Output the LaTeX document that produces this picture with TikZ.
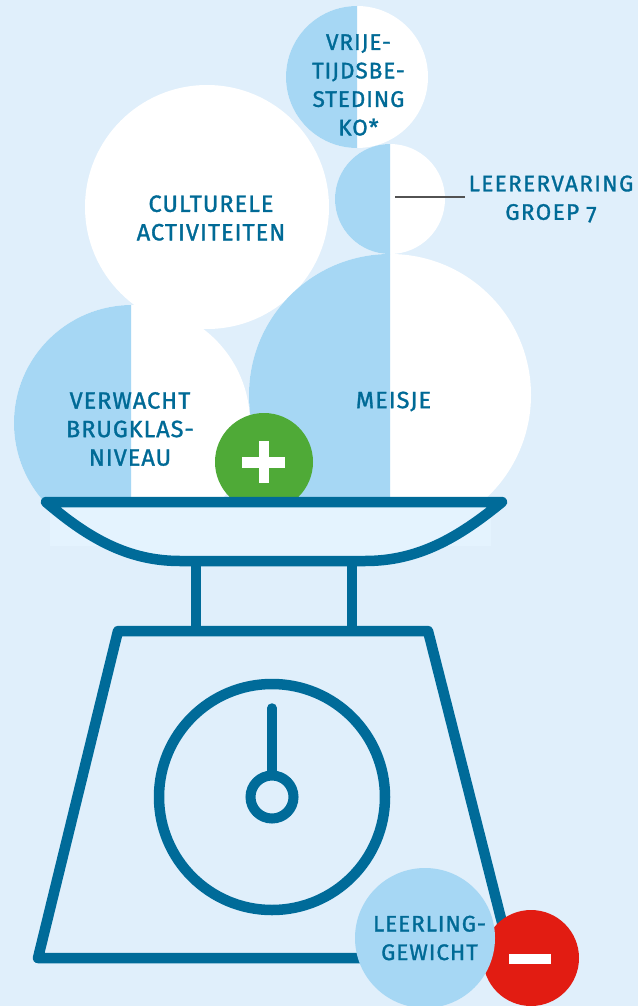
\documentclass[tikz,border=0pt]{standalone}
\usepackage{fontspec}
\setmainfont[LetterSpace=4.2,Numbers=OldStyle,FakeBold=1.3]{Fira Sans}
\newfontfamily\widefont[LetterSpace=6.2,Numbers=OldStyle,FakeBold=1.3]{Fira Sans}
\definecolor{bgc}{HTML}{E0EFFB}
\definecolor{halfc}{HTML}{A6D7F4}
\definecolor{inkc}{HTML}{006B99}
\definecolor{labc}{HTML}{006A96}
\definecolor{greenc}{HTML}{4FAA37}
\definecolor{redc}{HTML}{E21C12}
\definecolor{panc}{HTML}{E4F3FE}
\newcommand{\halfdisc}[4]{%
  \begin{scope}
    \clip (0,0) rectangle (638,500);
    \fill[white] (#1,#2) circle[radius=#3pt];
    \clip (0,0) rectangle (#4,500);
    \fill[halfc] (#1,#2) circle[radius=#3pt];
  \end{scope}}
\tikzset{
  lab/.style={text=labc,align=center,inner sep=0pt,font=\fontsize{22.5}{28.5}\selectfont},
  labbig/.style={text=labc,align=center,inner sep=0pt,font=\fontsize{23.5}{28.5}\selectfont},
  inkline/.style={draw=inkc,line width=10.5pt,line join=round,line cap=round},
  thinink/.style={draw=inkc,line width=10pt}
}
\begin{document}
\begin{tikzpicture}[x=1pt,y=-1pt]
\useasboundingbox (0,0) rectangle (638,1006);
\fill[bgc] (0,0) rectangle (638,1006);
% discs
\fill[white] (207,207) circle[radius=122pt];
\halfdisc{132}{423}{118}{131}
\halfdisc{390}{395}{141}{390}
\halfdisc{357}{77}{71}{357}
\halfdisc{390}{199}{55}{390}
% green plus disc
\begin{scope}
  \clip (0,0) rectangle (638,500);
  \fill[greenc] (264,462) circle[radius=49pt];
\end{scope}
\fill[white] (258.5,441) rectangle (269,483);
\fill[white] (242,457) rectangle (285,468);
% pan
\fill[panc] (50,507) rectangle (491,546);
\path[inkline,fill=panc] (46,502) -- (502,502) .. controls (458,538) and (418,561) .. (365,561) -- (180,561) .. controls (128,561) and (88,538) .. (46,502) -- cycle;
% stems
\draw[thinink] (196,561) -- (196,631);
\draw[thinink] (351.5,561) -- (351.5,631);
% body
\draw[inkline] (118,631) -- (428,631) -- (511,958) -- (38,958) -- cycle;
% dial
\draw[draw=inkc,line width=10.5pt] (272,797) circle[radius=113pt];
\draw[draw=inkc,line width=10pt] (272,797) circle[radius=21.5pt];
\draw[draw=inkc,line width=9.5pt,line cap=round] (272,708) -- (272,772);
% minus and weight discs
\fill[redc] (531,958) circle[radius=48pt];
\fill[white] (509,954) rectangle (551,964);
\fill[halfc] (425,938) circle[radius=70pt];
% labels
\node[lab] (vrij) at (358.5,85) {VRIJE-\\TIJDSBE-\\STEDING\\KO*};
\node[labbig] (cult) at (211,218) {CULTURELE\\ACTIVITEITEN};
\node[labbig] (verw) at (130,429) {VERWACHT\\BRUGKLAS-\\NIVEAU};
\node[labbig] (meis) at (393.5,401.5) {MEISJE};
\node[lab,font=\fontsize{22.5}{28.5}\selectfont\widefont] (leer) at (551,199) {LEERERVARING\\GROEP 7};
\node[lab] (gew) at (429.5,938) {LEERLING-\\GEWICHT};
\coordinate (lineA) at (395,197);
\coordinate (lineB) at (465,197);
\draw[draw=black!68,line width=2.3pt] (lineA) -- (lineB);
\end{tikzpicture}
\end{document}
